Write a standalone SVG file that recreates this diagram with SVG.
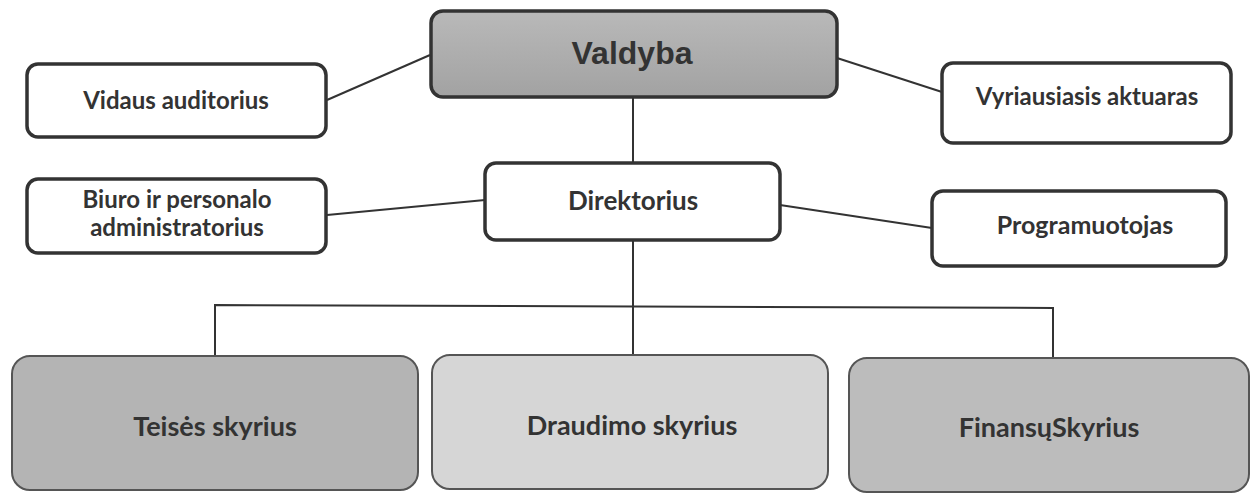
<svg xmlns="http://www.w3.org/2000/svg" width="1256" height="499" viewBox="0 0 1256 499">
<defs>
<linearGradient id="gTop" x1="0" y1="0" x2="0" y2="1">
<stop offset="0" stop-color="#b9b9b9"/><stop offset="1" stop-color="#a2a2a2"/>
</linearGradient>
</defs>
<style>
.box{stroke:#333;stroke-width:3.5;fill:#fff}
.dept{stroke:#555;stroke-width:2}
.t{font-family:Lato,"Open Sans",sans-serif;font-weight:bold;fill:#333;text-anchor:middle}
.s{font-size:24px}
.d{font-size:27px}
.c{stroke:#333;stroke-width:2;fill:none}
</style>
<rect width="1256" height="499" fill="#fff"/>
<g id="connectors">
<line class="c" x1="430" y1="55" x2="327" y2="100"/>
<line class="c" x1="837" y1="58" x2="942" y2="92"/>
<line class="c" x1="633" y1="97" x2="633" y2="163"/>
<line class="c" x1="485" y1="200" x2="327" y2="215"/>
<line class="c" x1="780" y1="205" x2="932" y2="228"/>
<line class="c" x1="633" y1="240" x2="633" y2="355"/>
<polyline class="c" points="215,355 215,305 1053,308 1053,358"/>
</g>
<g id="valdyba">
<rect class="box" x="431" y="11" width="406" height="86" rx="12" style="fill:url(#gTop)"/>
<text class="t" x="632" y="64" font-size="32" style="font-family:'Liberation Sans',Arial,sans-serif">Valdyba</text>
</g>
<g id="vidaus">
<rect class="box" x="27" y="64" width="299" height="73" rx="11"/>
<text class="t s" x="176" y="109">Vidaus auditorius</text>
</g>
<g id="aktuaras">
<rect class="box" x="942" y="63" width="289" height="80" rx="11"/>
<text class="t s" x="1087" y="105">Vyriausiasis aktuaras</text>
</g>
<g id="biuro">
<rect class="box" x="27" y="179" width="299" height="74" rx="11"/>
<text class="t s" x="177" y="208">Biuro ir personalo</text>
<text class="t s" x="177" y="236">administratorius</text>
</g>
<g id="direktorius">
<rect class="box" x="485" y="163" width="295" height="77" rx="11"/>
<text class="t" x="633" y="210" font-size="26">Direktorius</text>
</g>
<g id="programuotojas">
<rect class="box" x="932" y="191" width="294" height="75" rx="11"/>
<text class="t" x="1085" y="234" font-size="25">Programuotojas</text>
</g>
<g id="teises">
<rect class="dept" x="12" y="356" width="406" height="134" rx="18" fill="#b4b4b4"/>
<text class="t d" x="215" y="436">Teisės skyrius</text>
</g>
<g id="draudimo">
<rect class="dept" x="432" y="355" width="396" height="134" rx="18" fill="#d6d6d6"/>
<text class="t d" x="632" y="435">Draudimo skyrius</text>
</g>
<g id="finansu">
<rect class="dept" x="849" y="358" width="400" height="134" rx="18" fill="#bcbcbc"/>
<text class="t d" x="1049" y="437">FinansųSkyrius</text>
</g>
</svg>
